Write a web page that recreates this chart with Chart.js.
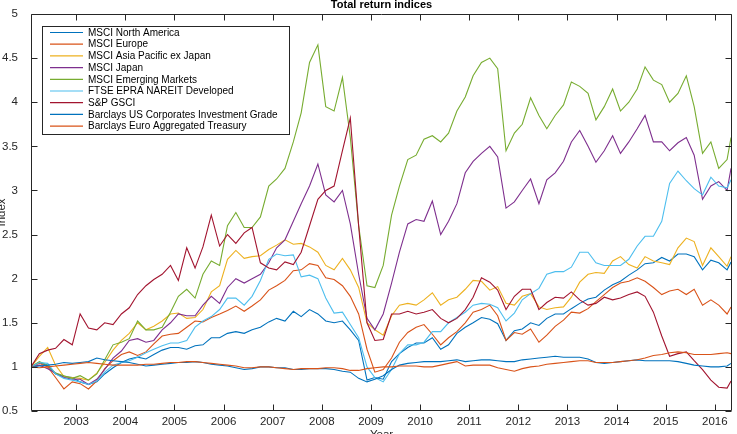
<!DOCTYPE html>
<html>
<head>
<meta charset="utf-8">
<title>Total return indices</title>
<script src="https://cdn.jsdelivr.net/npm/chart.js@4/dist/chart.umd.min.js"></script>
<style>
  html, body { margin: 0; padding: 0; background: #fff; }
  #wrap { width: 737px; height: 434px; }
</style>
</head>
<body>
<div id="wrap"><canvas id="chart" width="737" height="434"></canvas></div>
<script>
// observation dates (decimal years, every two months)
const dates = [
  2002.08, 2002.25, 2002.42, 2002.58, 2002.75, 2002.92,
  2003.08, 2003.25, 2003.42, 2003.58, 2003.75, 2003.92,
  2004.08, 2004.25, 2004.42, 2004.58, 2004.75, 2004.92,
  2005.08, 2005.25, 2005.42, 2005.58, 2005.75, 2005.92,
  2006.08, 2006.25, 2006.42, 2006.58, 2006.75, 2006.92,
  2007.08, 2007.25, 2007.42, 2007.58, 2007.75, 2007.92,
  2008.08, 2008.25, 2008.42, 2008.58, 2008.75, 2008.92,
  2009.08, 2009.25, 2009.42, 2009.58, 2009.75, 2009.92,
  2010.08, 2010.25, 2010.42, 2010.58, 2010.75, 2010.92,
  2011.08, 2011.25, 2011.42, 2011.58, 2011.75, 2011.92,
  2012.08, 2012.25, 2012.42, 2012.58, 2012.75, 2012.92,
  2013.08, 2013.25, 2013.42, 2013.58, 2013.75, 2013.92,
  2014.08, 2014.25, 2014.42, 2014.58, 2014.75, 2014.92,
  2015.08, 2015.25, 2015.42, 2015.58, 2015.75, 2015.92,
  2016.08, 2016.25, 2016.33
];

const yearTicks = [2003, 2004, 2005, 2006, 2007, 2008, 2009, 2010, 2011, 2012, 2013, 2014, 2015, 2016];
const indexTicks = [0.5, 1, 1.5, 2, 2.5, 3, 3.5, 4, 4.5, 5];

const seriesNames = [
  "MSCI North America",
  "MSCI Europe",
  "MSCI Asia Pacific ex Japan",
  "MSCI Japan",
  "MSCI Emerging Markets",
  "FTSE EPRA NAREIT Developed",
  "S&P GSCI",
  "Barclays US Corporates Investment Grade",
  "Barclays Euro Aggregated Treasury"
];

const seriesColors = ["#0072BD", "#D95319", "#EDB120", "#7E2F8E", "#77AC30", "#4DBEEE", "#A2142F", "#0072BD", "#D95319"];

const northAmerica = [
  1.00, 1.05, 1.01, 0.92, 0.89, 0.88,
  0.83, 0.80, 0.83, 0.92, 0.99, 1.05,
  1.09, 1.11, 1.09, 1.14, 1.19, 1.22,
  1.22, 1.20, 1.24, 1.25, 1.33, 1.33,
  1.38, 1.40, 1.38, 1.42, 1.45, 1.51,
  1.55, 1.52, 1.63, 1.57, 1.65, 1.60,
  1.52, 1.50, 1.52, 1.42, 1.30, 0.85,
  0.88, 0.86, 1.06, 1.15, 1.22, 1.27,
  1.27, 1.33, 1.20, 1.25, 1.38, 1.45,
  1.50, 1.56, 1.54, 1.49, 1.30, 1.41,
  1.43, 1.50, 1.47, 1.55, 1.60, 1.60,
  1.66, 1.72, 1.77, 1.79, 1.87, 1.93,
  1.97, 2.04, 2.10, 2.17, 2.18, 2.24,
  2.20, 2.28, 2.28, 2.25, 2.10, 2.21,
  2.18, 2.10, 2.19
];

const europe = [
  1.00, 1.04, 1.00, 0.88, 0.75, 0.83,
  0.81, 0.75, 0.84, 0.98, 1.07, 1.14,
  1.17, 1.13, 1.17, 1.26, 1.35, 1.37,
  1.38, 1.45, 1.52, 1.51, 1.56, 1.60,
  1.64, 1.69, 1.63, 1.69, 1.76, 1.87,
  1.92, 1.98, 2.09, 2.10, 2.17, 2.15,
  2.01, 1.99, 1.92, 1.80, 1.60, 1.20,
  0.94, 0.97, 1.10, 1.28, 1.39, 1.45,
  1.48, 1.37, 1.25, 1.33, 1.40, 1.50,
  1.62, 1.65, 1.70, 1.58, 1.30, 1.39,
  1.37, 1.43, 1.28, 1.36, 1.46, 1.53,
  1.62, 1.61, 1.66, 1.74, 1.82, 1.90,
  1.95, 1.97, 2.01, 1.97, 1.90, 1.82,
  1.86, 1.88, 1.82, 1.88, 1.70, 1.76,
  1.70, 1.60, 1.68
];

const asiaPacExJapan = [
  1.00, 1.12, 1.22, 1.02, 0.89, 0.88,
  0.87, 0.85, 0.93, 1.05, 1.19, 1.30,
  1.38, 1.50, 1.42, 1.46, 1.52, 1.60,
  1.61, 1.55, 1.56, 1.65, 1.85, 1.92,
  2.22, 2.32, 2.23, 2.25, 2.26, 2.33,
  2.38, 2.44, 2.39, 2.40, 2.36, 2.30,
  2.15, 2.10, 2.23, 2.10, 1.90, 1.50,
  1.42, 1.36, 1.58, 1.70, 1.72, 1.70,
  1.76, 1.84, 1.70, 1.76, 1.79, 1.88,
  1.98, 1.97, 1.87, 1.91, 1.72, 1.70,
  1.80, 1.83, 1.68, 1.65, 1.67, 1.68,
  1.79, 1.96, 2.05, 2.07, 2.06, 2.20,
  2.25, 2.16, 2.12, 2.25, 2.20, 2.18,
  2.16, 2.35, 2.46, 2.42, 2.15, 2.35,
  2.25, 2.14, 2.25
];

const japan = [
  1.00, 1.02, 0.98, 0.93, 0.88, 0.86,
  0.86, 0.80, 0.86, 0.97, 1.10, 1.18,
  1.30, 1.32, 1.28, 1.30, 1.42, 1.50,
  1.60, 1.58, 1.58, 1.70, 1.80, 1.72,
  1.90, 2.00, 1.95, 2.00, 2.05, 2.18,
  2.35, 2.44, 2.65, 2.85, 3.05, 3.30,
  2.95, 2.87, 3.00, 2.62, 2.05, 1.55,
  1.42, 1.60, 1.95, 2.30, 2.62, 2.67,
  2.65, 2.88, 2.50, 2.65, 2.85, 3.20,
  3.33, 3.42, 3.50, 3.38, 2.80, 2.87,
  3.00, 3.13, 2.85, 3.12, 3.20, 3.33,
  3.55, 3.68, 3.50, 3.32, 3.45, 3.62,
  3.42, 3.55, 3.70, 3.85, 3.55, 3.55,
  3.45, 3.54, 3.60, 3.40, 2.90, 3.05,
  3.10, 3.00, 3.25
];

const emergingMarkets = [
  1.00, 1.06, 1.02, 0.93, 0.90, 0.87,
  0.90, 0.85, 0.92, 1.08, 1.25, 1.28,
  1.32, 1.52, 1.42, 1.42, 1.45, 1.62,
  1.80, 1.88, 1.78, 2.05, 2.20, 2.15,
  2.60, 2.75, 2.58, 2.58, 2.70, 3.05,
  3.13, 3.25, 3.55, 3.88, 4.45, 4.65,
  3.95, 3.90, 4.28, 3.60, 2.60, 1.92,
  1.90, 2.15, 2.72, 3.05, 3.35, 3.40,
  3.58, 3.62, 3.55, 3.65, 3.90, 4.06,
  4.30, 4.45, 4.50, 4.38, 3.45, 3.65,
  3.75, 4.05, 3.85, 3.70, 3.85, 3.97,
  4.23, 4.18, 4.10, 3.80, 3.95, 4.15,
  3.90, 4.00, 4.15, 4.40, 4.25, 4.20,
  4.00, 4.10, 4.30, 3.95, 3.42, 3.55,
  3.25, 3.35, 3.60
];

const reitsDeveloped = [
  1.00, 1.05, 1.04, 0.92, 0.87, 0.85,
  0.83, 0.80, 0.84, 0.94, 1.02, 1.05,
  1.07, 1.11, 1.16, 1.20, 1.24, 1.27,
  1.27, 1.30, 1.45, 1.52, 1.57, 1.65,
  1.78, 1.78, 1.70, 1.80, 1.98, 2.22,
  2.28, 2.26, 2.27, 2.02, 2.04, 2.00,
  1.78, 1.61, 1.62, 1.48, 1.33, 1.00,
  0.88, 0.83, 0.97, 1.15, 1.25, 1.25,
  1.28, 1.40, 1.40, 1.50, 1.56, 1.62,
  1.70, 1.72, 1.71, 1.67, 1.52, 1.61,
  1.76, 1.83, 1.89, 2.05, 2.08, 2.08,
  2.13, 2.30, 2.30, 2.18, 2.15, 2.15,
  2.15, 2.22, 2.37, 2.48, 2.48, 2.65,
  3.08, 3.22, 3.11, 3.02, 2.95, 3.15,
  3.05, 3.03, 3.12
];

const commodities = [
  1.00, 1.15, 1.19, 1.21, 1.31, 1.25,
  1.60, 1.44, 1.42, 1.50, 1.48, 1.60,
  1.67, 1.82, 1.92, 1.99, 2.05, 2.15,
  1.98, 2.35, 2.12, 2.36, 2.72, 2.37,
  2.50, 2.40, 2.52, 2.58, 2.18, 2.12,
  2.10, 2.19, 2.16, 2.30, 2.60, 2.90,
  3.00, 3.05, 3.45, 3.82, 2.60, 1.50,
  1.30, 1.31, 1.60, 1.60, 1.63, 1.60,
  1.62, 1.65, 1.55, 1.50, 1.55, 1.65,
  1.79, 2.01, 1.96, 1.87, 1.65, 1.80,
  1.88, 1.88, 1.65, 1.73, 1.79, 1.78,
  1.85, 1.76, 1.70, 1.72, 1.79, 1.76,
  1.78, 1.82, 1.85, 1.80, 1.62, 1.35,
  1.12, 1.15, 1.17, 1.07, 0.97, 0.85,
  0.77, 0.76, 0.84
];

const usCorporates = [
  1.00, 1.01, 1.02, 1.03, 1.05, 1.04,
  1.05, 1.06, 1.10, 1.08, 1.07, 1.06,
  1.05, 1.03, 1.01, 1.02, 1.03, 1.04,
  1.05, 1.05, 1.06, 1.05, 1.03, 1.02,
  1.01, 0.99, 0.97, 0.98, 1.00, 1.00,
  0.99, 0.99, 0.97, 0.97, 0.98, 0.98,
  0.98, 0.97, 0.95, 0.94, 0.87, 0.83,
  0.86, 0.90, 0.97, 1.02, 1.04, 1.05,
  1.06, 1.06, 1.06, 1.07, 1.08, 1.06,
  1.07, 1.08, 1.08, 1.07, 1.06, 1.06,
  1.08, 1.09, 1.10, 1.11, 1.12, 1.11,
  1.11, 1.11, 1.09, 1.05, 1.04, 1.05,
  1.06, 1.07, 1.08, 1.07, 1.07, 1.07,
  1.07, 1.06, 1.04, 1.02, 1.01, 1.00,
  1.00, 1.01, 1.04
];

const euroTreasury = [
  1.00, 0.99, 1.00, 1.01, 1.02, 1.03,
  1.04, 1.05, 1.04, 1.03, 1.02, 1.02,
  1.02, 1.02, 1.03, 1.03, 1.04, 1.05,
  1.05, 1.06, 1.06, 1.05, 1.04, 1.03,
  1.02, 1.01, 0.99, 0.99, 1.00, 1.00,
  0.99, 0.98, 0.97, 0.98, 0.98, 0.98,
  0.99, 0.99, 0.98, 0.96, 0.96, 0.98,
  0.99, 1.00, 1.00, 1.01, 1.01, 1.01,
  1.00, 1.00, 1.02, 1.04, 1.06, 1.01,
  1.02, 1.02, 1.02, 0.99, 0.97, 0.95,
  0.98, 1.00, 1.01, 1.03, 1.04, 1.05,
  1.06, 1.07, 1.07, 1.05, 1.05, 1.05,
  1.06, 1.07, 1.08, 1.10, 1.13, 1.14,
  1.16, 1.17, 1.16, 1.14, 1.14, 1.14,
  1.15, 1.16, 1.15
];

const allSeries = [northAmerica, europe, asiaPacExJapan, japan, emergingMarkets,
                   reitsDeveloped, commodities, usCorporates, euroTreasury];

const FONT = '"Liberation Sans", Arial, Helvetica, sans-serif';
const INK = "#262626";

// box, inward ticks, year labels, titles and legend in the MATLAB look
const frame = {
  id: "frame",
  afterDatasetsDraw(chart) {
    const { ctx, chartArea: a, scales: { x, y } } = chart;
    const L = Math.round(a.left) + 0.5, R = Math.round(a.right) - 0.5;
    const T = Math.round(a.top) + 0.5, B = Math.round(a.bottom) - 0.5;
    ctx.save();
    ctx.strokeStyle = INK;
    ctx.lineWidth = 1;
    ctx.beginPath();
    ctx.rect(L, T, R - L, B - T);
    yearTicks.forEach(v => {
      const px = Math.round(x.getPixelForValue(v)) + 0.5;
      ctx.moveTo(px, B); ctx.lineTo(px, B - 6);
      ctx.moveTo(px, T); ctx.lineTo(px, T + 6);
    });
    indexTicks.forEach(v => {
      const py = Math.round(y.getPixelForValue(v)) + 0.5;
      ctx.moveTo(L, py); ctx.lineTo(L + 6, py);
      ctx.moveTo(R, py); ctx.lineTo(R - 6, py);
    });
    ctx.stroke();

    // year labels under the box
    ctx.fillStyle = INK;
    ctx.font = "11.5px " + FONT;
    ctx.textAlign = "center";
    ctx.textBaseline = "top";
    yearTicks.forEach(v => {
      ctx.fillText(String(v), x.getPixelForValue(v), a.bottom + 5);
    });

    // titles
    const cx = (a.left + a.right) / 2;
    ctx.fillStyle = "#000";
    ctx.font = "bold 11px " + FONT;
    ctx.textBaseline = "alphabetic";
    ctx.fillText("Total return indices", cx, 8);
    ctx.fillStyle = INK;
    ctx.font = "11.5px " + FONT;
    ctx.textBaseline = "top";
    ctx.fillText("Year", cx, 429);
    ctx.save();
    ctx.translate(5, (a.top + a.bottom) / 2);
    ctx.rotate(-Math.PI / 2);
    ctx.textBaseline = "alphabetic";
    ctx.fillText("Index", 0, 0);
    ctx.restore();

    // legend
    const lx = Math.round(a.left) + 11, ly = Math.round(a.top) + 12;
    const row = 11.7;
    const n = chart.data.datasets.length;
    const w = 247, h = Math.round(row * n + 3);
    ctx.fillStyle = "#fff";
    ctx.fillRect(lx, ly, w, h);
    ctx.strokeStyle = INK;
    ctx.strokeRect(lx + 0.5, ly + 0.5, w, h);
    ctx.font = "10px " + FONT;
    ctx.textAlign = "left";
    ctx.textBaseline = "middle";
    chart.data.datasets.forEach((ds, i) => {
      const cy = ly + 6.5 + i * row;
      ctx.strokeStyle = ds.borderColor;
      ctx.lineWidth = 1.2;
      ctx.beginPath();
      ctx.moveTo(lx + 8, cy); ctx.lineTo(lx + 41, cy);
      ctx.stroke();
      ctx.fillStyle = "#000";
      ctx.fillText(ds.label, lx + 46, cy + 0.5);
    });
    ctx.restore();
  }
};

new Chart(document.getElementById("chart").getContext("2d"), {
  type: "line",
  data: {
    datasets: allSeries.map((vals, i) => ({
      label: seriesNames[i],
      data: dates.map((d, k) => ({ x: d, y: vals[k] })),
      borderColor: seriesColors[i],
      backgroundColor: seriesColors[i],
      borderWidth: 1.1,
      pointRadius: 0,
      tension: 0,
      fill: false,
      order: allSeries.length - i // later series drawn on top
    }))
  },
  options: {
    responsive: false,
    animation: false,
    layout: { padding: { top: 14, right: 5, left: 0, bottom: 0 } },
    plugins: {
      legend: { display: false },
      tooltip: { enabled: false },
      title: { display: false }
    },
    scales: {
      x: {
        type: "linear",
        min: 2002.08,
        max: 2016.35,
        afterBuildTicks: s => { s.ticks = yearTicks.map(v => ({ value: v })); },
        afterFit: s => { s.height = 23; },
        grid: { display: false },
        border: { display: false },
        ticks: { display: false }
      },
      y: {
        min: 0.5,
        max: 5,
        afterBuildTicks: s => { s.ticks = indexTicks.map(v => ({ value: v })); },
        afterFit: s => { s.width = 31; },
        grid: { display: false },
        border: { display: false },
        ticks: {
          padding: 5, color: INK,
          font: { family: FONT, size: 11.5 },
          callback: v => String(v)
        }
      }
    }
  },
  plugins: [frame]
});
</script>
</body>
</html>
